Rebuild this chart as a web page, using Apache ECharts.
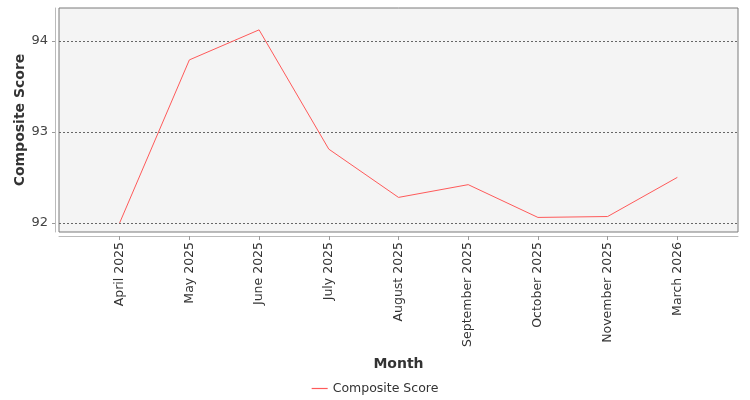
<!DOCTYPE html>
<html><head><meta charset="utf-8">
<script src="https://cdn.jsdelivr.net/npm/echarts@6/dist/echarts.min.js"></script>
<style>html,body{margin:0;padding:0;background:#fff}#c{width:750px;height:400px}</style>
</head><body><div id="c"></div>
<script>
const categories = ['April 2025','May 2025','June 2025','July 2025','August 2025','September 2025','October 2025','November 2025','March 2026'];
const scores = [92.0, 93.79, 94.12, 92.81, 92.28, 92.42, 92.06, 92.07, 92.50];
const yTicks = [92, 93, 94];
const idx = categories.map((c,i)=>i);
const chart = echarts.init(document.getElementById('c'), null, {renderer:'canvas'});
const font = 'DejaVu Sans';
chart.setOption({
  animation:false,
  textStyle:{fontFamily:font},
  grid:{left:59,right:12,top:8,bottom:168,show:true,backgroundColor:'#f4f4f4',borderColor:'#7a7a7a',borderWidth:1},
  legend:{bottom:0,left:'center',icon:'path://M0,0L20,0L20,1.5L0,1.5Z',itemWidth:16,itemHeight:2,itemGap:6,
    textStyle:{fontFamily:font,fontSize:12.5,color:'#333'}},
  xAxis:{type:'value',min:-0.87,max:8.87,offset:4,
    name:'Month',nameLocation:'middle',nameGap:121,nameMoveOverlap:false,
    nameTextStyle:{fontFamily:font,fontSize:14,fontWeight:'bold',color:'#333'},
    axisLine:{show:true,onZero:false,lineStyle:{color:'#bbb'}},
    axisTick:{show:true,length:4,lineStyle:{color:'#999'},customValues:idx},
    axisLabel:{rotate:90,fontSize:12.5,color:'#333',margin:6,customValues:idx,formatter:v=>categories[Math.round(v)]||''},
    splitLine:{show:false}},
  yAxis:{type:'value',min:91.9,max:94.36,offset:4,
    name:'Composite Score',nameLocation:'middle',nameGap:28,nameMoveOverlap:false,
    nameTextStyle:{fontFamily:font,fontSize:14,fontWeight:'bold',color:'#333'},
    axisLine:{show:true,onZero:false,lineStyle:{color:'#bbb'}},
    axisTick:{show:true,length:3,lineStyle:{color:'#999'},customValues:yTicks},
    axisLabel:{fontSize:13,color:'#444',margin:7,customValues:yTicks},
    splitLine:{show:true,customValues:yTicks,lineStyle:{color:'#666',type:[2,2],width:1}}},
  series:[{name:'Composite Score',type:'line',data:scores.map((s,i)=>[i,s]),showSymbol:false,symbol:'none',
    lineStyle:{color:'#ff5a5a',width:1},itemStyle:{color:'#ff5a5a'}}]
});
</script></body></html>
